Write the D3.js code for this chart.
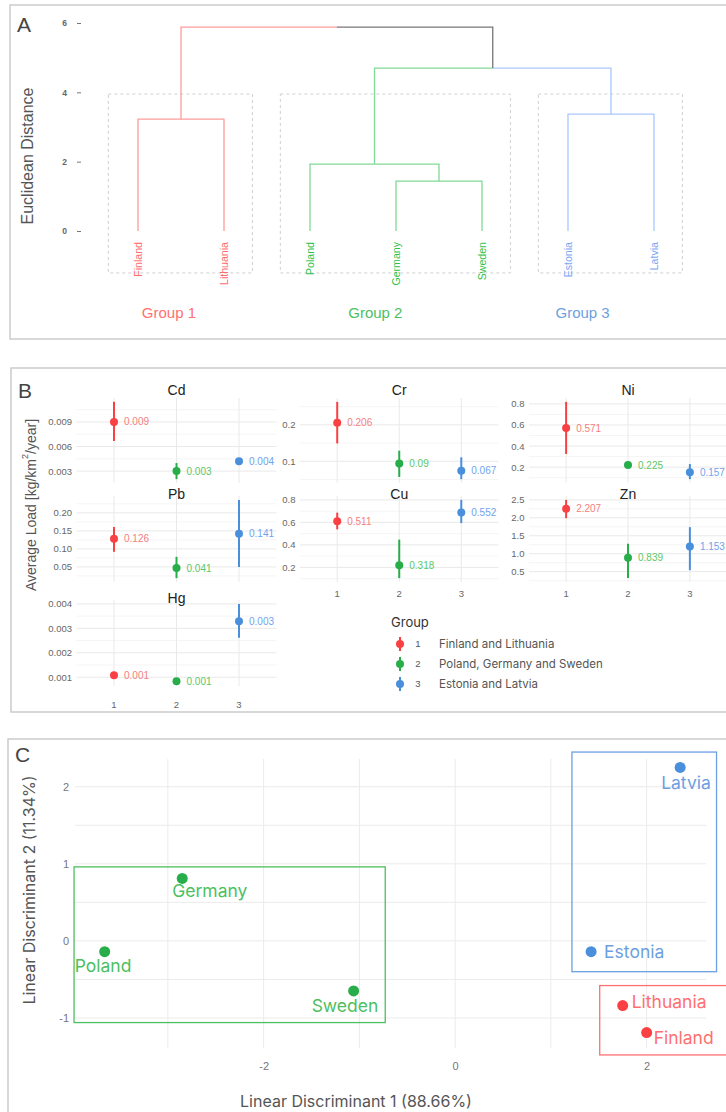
<!DOCTYPE html>
<meta charset="utf-8">
<script src="https://d3js.org/d3.v7.min.js"></script>
<style>
  body { margin: 0; background: #fff; }
  svg { display: block; font-family: "Liberation Sans", Arial, sans-serif; }
</style>
<body>
<div id="my_dataviz"></div>
<script>
  // ---------- Panel A: dendrogram ----------
  var leaves = ["Finland", "Lithuania", "Poland", "Germany", "Sweden", "Estonia", "Latvia"];
  var leafGroup = [1, 1, 2, 2, 2, 3, 3];
  // hclust style: negative = leaf (1-based), positive = earlier merge (1-based)
  var merges = [[-4, -5], [-3, 1], [-1, -2], [-6, -7], [2, 4], [3, 5]];
  var mergeHeight = [1.44, 1.93, 3.23, 3.37, 4.70, 5.88];
  var distTicks = [0, 2, 4, 6];
  var groupNames = ["Group 1", "Group 2", "Group 3"];

  // ---------- Panel B: average loads ----------
  var metals = ["Cd", "Cr", "Ni", "Pb", "Cu", "Zn", "Hg"];
  var loadMean = [[0.009, 0.003, 0.0042], [0.206, 0.094, 0.074], [0.571, 0.219, 0.152],
                  [0.128, 0.047, 0.142], [0.61, 0.219, 0.687], [2.25, 0.89, 1.2],
                  [0.00108, 0.00083, 0.00329]];
  var loadLow = [[0.00667, 0.00202, 0.0040], [0.149, 0.057, 0.051], [0.324, 0.21, 0.086],
                 [0.092, 0.019, 0.05], [0.538, 0.105, 0.594], [1.99, 0.32, 0.54],
                 [0.00104, 0.0008, 0.00262]];
  var loadHigh = [[0.01145, 0.00398, 0.0044], [0.263, 0.129, 0.111], [0.819, 0.23, 0.229],
                  [0.161, 0.078, 0.236], [0.687, 0.447, 0.8], [2.5, 1.28, 1.74],
                  [0.00112, 0.00086, 0.004]];
  var loadLabel = [[0.009, 0.003, 0.004], [0.206, 0.09, 0.067], [0.571, 0.225, 0.157],
                   [0.126, 0.041, 0.141], [0.511, 0.318, 0.552], [2.207, 0.839, 1.153],
                   [0.001, 0.001, 0.003]];
  var metalTicks = [[0.003, 0.006, 0.009], [0.1, 0.2], [0.2, 0.4, 0.6, 0.8],
                    [0.05, 0.1, 0.15, 0.2], [0.2, 0.4, 0.6, 0.8], [0.5, 1, 1.5, 2, 2.5],
                    [0.001, 0.002, 0.003, 0.004]];
  var metalTickFormat = [".3f", ".1f", ".1f", ".2f", ".1f", ".1f", ".3f"];
  var groupLegend = ["Finland and Lithuania", "Poland, Germany and Sweden", "Estonia and Latvia"];

  // ---------- Panel C: LDA ----------
  var ldaCountry = ["Germany", "Poland", "Sweden", "Latvia", "Estonia", "Lithuania", "Finland"];
  var ldaGroup = [2, 2, 2, 3, 3, 1, 1];
  var ld1 = [-2.85, -3.66, -1.06, 2.35, 1.42, 1.75, 2.00];
  var ld2 = [0.81, -0.14, -0.65, 2.25, -0.14, -0.84, -1.19];
  var boxLD1 = [[1.51, 2.95], [-3.98, -0.73], [1.22, 2.73]];
  var boxLD2 = [[-1.48, -0.58], [-1.06, 0.96], [-0.40, 2.45]];
  var ld1Ticks = [-2, 0, 2], ld2Ticks = [-1, 0, 1, 2];

  // colours
  var lineCol = {1: "#ff9c9c", 2: "#80d994", 3: "#a9c7ff", 0: "#777"};
  var leafCol = {1: "#ff6b6b", 2: "#2fbf4f", 3: "#7aa5f5"};
  var grpCol = {1: "#ff6f6f", 2: "#4cbf5f", 3: "#6d9fe0"};
  var ptCol = {1: "#f94144", 2: "#27ad4a", 3: "#4a8fdb"};
  var lblCol = {1: "#f48080", 2: "#5cc867", 3: "#70a3ee"};

  var svg = d3.select("#my_dataviz").append("svg")
    .attr("width", 726).attr("height", 1112);

  function frame(x, y, w, h, letter, ly) {
    svg.append("rect").attr("x", x).attr("y", y).attr("width", w).attr("height", h)
      .attr("fill", "none").attr("stroke", "#c8c8c8").attr("stroke-width", 1.4);
    svg.append("text").attr("x", x + 7).attr("y", ly).text(letter)
      .style("font-size", "21px").attr("fill", "#444");
  }

  // ================= Panel A =================
  frame(10, 5, 730, 334, "A", 32);
  var gA = svg.append("g");
  var xA = d3.scalePoint().domain(leaves).range([138, 654]);
  var yA = d3.scaleLinear().domain([0, 6]).range([231, 23]);
  var step = xA.step();

  var axA = gA.append("g").attr("transform", "translate(81,0)")
    .call(d3.axisLeft(yA).tickValues(distTicks).tickFormat(function(d) { return String(d); })
      .tickSize(4).tickPadding(10));
  axA.select(".domain").remove();
  axA.selectAll("line").attr("stroke", "#777");
  axA.selectAll("text").style("font-size", "8.5px").style("font-weight", "bold").attr("fill", "#666");

  gA.append("text").attr("transform", "translate(27.5,156) rotate(-90)")
    .attr("text-anchor", "middle").attr("dominant-baseline", "central")
    .style("font-size", "16px").attr("fill", "#555").text("Euclidean Distance");

  // group boxes
  [1, 2, 3].forEach(function(gr, i) {
    var idx = leaves.filter(function(d, j) { return leafGroup[j] === gr; });
    var x0 = xA(idx[0]) - 0.345 * step, x1 = xA(idx[idx.length - 1]) + 0.33 * step;
    gA.append("rect").attr("x", x0).attr("y", yA(3.95))
      .attr("width", x1 - x0).attr("height", yA(-1.21) - yA(3.95))
      .attr("fill", "none").attr("stroke", "#cfcfcf").attr("stroke-dasharray", "3,3");
  });

  function nodeX(r) { return r < 0 ? xA(leaves[-r - 1]) : (nodeX(merges[r - 1][0]) + nodeX(merges[r - 1][1])) / 2; }
  function nodeH(r) { return r < 0 ? 0 : mergeHeight[r - 1]; }
  function nodeG(r) {
    if (r < 0) return leafGroup[-r - 1];
    var a = nodeG(merges[r - 1][0]), b = nodeG(merges[r - 1][1]);
    return a === b ? a : 0;
  }
  merges.forEach(function(m, i) {
    var px = nodeX(i + 1), py = yA(mergeHeight[i]);
    m.forEach(function(c) {
      gA.append("path")
        .attr("d", "M" + nodeX(c) + "," + yA(nodeH(c)) + "V" + py + "H" + px)
        .attr("fill", "none").attr("stroke", lineCol[nodeG(c)]).attr("stroke-width", 1.3);
    });
  });

  leaves.forEach(function(l, j) {
    gA.append("text")
      .attr("transform", "translate(" + xA(l) + ",242) rotate(-90)")
      .attr("text-anchor", "end").attr("dominant-baseline", "central")
      .style("font-size", "10.6px").attr("fill", leafCol[leafGroup[j]]).text(l);
  });

  var groupLabelPos = [0.36, 2.76, 5.17];
  groupNames.forEach(function(n, i) {
    gA.append("text").attr("x", xA(leaves[0]) + groupLabelPos[i] * step).attr("y", 318)
      .attr("text-anchor", "middle").style("font-size", "15px")
      .attr("fill", grpCol[i + 1]).text(n);
  });

  // ================= Panel B =================
  frame(11, 368, 730, 344, "B", 398);
  var gB = svg.append("g");
  var metalCol = [0, 1, 2, 0, 1, 2, 0], metalRow = [0, 0, 0, 1, 1, 1, 2];
  var colX = [[76.5, 276.5], [300, 498.5], [529, 727]];
  var rowY = [[398, 483], [496, 582], [600, 686]];
  var titleY = [395, 499, 603];
  var groups = [1, 2, 3];

  metals.forEach(function(m, i) {
    var xr = colX[metalCol[i]], yr = rowY[metalRow[i]];
    var x = d3.scaleLinear().domain([0.4, 3.6]).range(xr);
    var lo = d3.min(loadLow[i]), hi = d3.max(loadHigh[i]), pad = (hi - lo) * 0.05;
    var y = d3.scaleLinear().domain([lo - pad, hi + pad]).range([yr[1], yr[0]]);
    var g = gB.append("g");
    var t = metalTicks[i], st = t[1] - t[0];
    var minors = d3.range(t[0] - st / 2, hi + pad, st).filter(function(v) { return v >= lo - pad; });

    g.selectAll(".mi").data(minors).enter().append("line")
      .attr("x1", xr[0]).attr("x2", xr[1]).attr("y1", y).attr("y2", y)
      .attr("stroke", "#f3f3f3").attr("stroke-width", 0.8);
    g.selectAll(".ma").data(t).enter().append("line")
      .attr("x1", xr[0]).attr("x2", xr[1]).attr("y1", y).attr("y2", y)
      .attr("stroke", "#e9e9e9").attr("stroke-width", 1);
    g.selectAll(".vg").data(groups).enter().append("line")
      .attr("x1", x).attr("x2", x).attr("y1", yr[0]).attr("y2", yr[1])
      .attr("stroke", "#e9e9e9").attr("stroke-width", 1);

    var ax = g.append("g").attr("transform", "translate(" + xr[0] + ",0)")
      .call(d3.axisLeft(y).tickValues(t).tickFormat(d3.format(metalTickFormat[i])).tickSize(0).tickPadding(4.5));
    ax.select(".domain").remove();
    ax.selectAll("text").style("font-size", "9.5px").attr("fill", "#666");

    g.append("text").attr("x", x(2)).attr("y", titleY[metalRow[i]]).attr("text-anchor", "middle")
      .style("font-size", "14px").attr("fill", "#222").text(m);

    groups.forEach(function(gr, k) {
      g.append("line").attr("x1", x(gr)).attr("x2", x(gr))
        .attr("y1", y(loadLow[i][k])).attr("y2", y(loadHigh[i][k]))
        .attr("stroke", ptCol[gr]).attr("stroke-width", 2);
      g.append("circle").attr("cx", x(gr)).attr("cy", y(loadMean[i][k])).attr("r", 4)
        .attr("fill", ptCol[gr]);
      g.append("text").attr("x", x(gr) + 10).attr("y", y(loadMean[i][k])).attr("dy", "0.35em")
        .style("font-size", "10px").attr("fill", lblCol[gr]).text(String(loadLabel[i][k]));
    });
  });

  // x labels: under last facet of each column
  [[0, 708], [1, 597], [2, 597]].forEach(function(c) {
    var x = d3.scaleLinear().domain([0.4, 3.6]).range(colX[c[0]]);
    gB.selectAll(".xl" + c[0]).data(groups).enter().append("text")
      .attr("x", x).attr("y", c[1]).attr("text-anchor", "middle")
      .style("font-size", "9.5px").attr("fill", "#666").text(function(d) { return d; });
  });

  var yt = gB.append("text").attr("transform", "translate(31,505) rotate(-90)")
    .attr("text-anchor", "middle").attr("dominant-baseline", "central")
    .style("font-size", "14px").attr("fill", "#555");
  yt.append("tspan").text("Average Load [kg/km");
  yt.append("tspan").attr("dy", -6).style("font-size", "9px").text("2");
  yt.append("tspan").attr("dy", 6).text("/year]");

  // legend
  var gL = gB.append("g");
  gL.append("text").attr("x", 391).attr("y", 627).style("font-size", "13px")
    .style("font-family", "Inter, sans-serif").attr("fill", "#333").text("Group");
  groups.forEach(function(gr, k) {
    var cy = 644 + k * 20;
    gL.append("line").attr("x1", 400).attr("x2", 400).attr("y1", cy - 7).attr("y2", cy + 7)
      .attr("stroke", ptCol[gr]).attr("stroke-width", 2);
    gL.append("circle").attr("cx", 400).attr("cy", cy).attr("r", 4).attr("fill", ptCol[gr]);
    gL.append("text").attr("x", 418).attr("y", cy).attr("dy", "0.35em").attr("text-anchor", "middle")
      .style("font-size", "9.5px").attr("fill", "#555").text(gr);
    gL.append("text").attr("x", 439).attr("y", cy).attr("dy", "0.35em")
      .style("font-size", "11.5px").style("font-family", "Inter, sans-serif")
      .attr("fill", "#555").text(groupLegend[k]);
  });

  // ================= Panel C =================
  frame(8, 739, 730, 380, "C", 762);
  var gC = svg.append("g");
  var xC = d3.scaleLinear().domain([-3.97, 2.62]).range([75, 706]);
  var yC = d3.scaleLinear().domain([-1.39, 2.36]).range([1048, 759]);
  var xGrid = [-3, -2, -1, 0, 1, 2], yGrid = [-1, -0.5, 0, 0.5, 1, 1.5, 2];

  gC.selectAll(".vx").data(xGrid).enter().append("line")
    .attr("x1", xC).attr("x2", xC).attr("y1", yC.range()[1]).attr("y2", yC.range()[0])
    .attr("stroke", "#ebebeb").attr("stroke-width", 1);
  gC.selectAll(".hy").data(yGrid).enter().append("line")
    .attr("x1", xC.range()[0]).attr("x2", xC.range()[1]).attr("y1", yC).attr("y2", yC)
    .attr("stroke", "#ebebeb").attr("stroke-width", 1);

  var plain = function(d) { return String(d); };
  var axCx = gC.append("g").attr("transform", "translate(0,1048)")
    .call(d3.axisBottom(xC).tickValues(ld1Ticks).tickFormat(plain).tickSize(0).tickPadding(14));
  axCx.select(".domain").remove();
  axCx.selectAll("text").style("font-size", "11px").attr("fill", "#777");
  var axCy = gC.append("g").attr("transform", "translate(75,0)")
    .call(d3.axisLeft(yC).tickValues(ld2Ticks).tickFormat(plain).tickSize(0).tickPadding(6));
  axCy.select(".domain").remove();
  axCy.selectAll("text").style("font-size", "11px").attr("fill", "#777");

  [1, 2, 3].forEach(function(gr, i) {
    gC.append("rect").attr("x", xC(boxLD1[i][0])).attr("y", yC(boxLD2[i][1]))
      .attr("width", xC(boxLD1[i][1]) - xC(boxLD1[i][0]))
      .attr("height", yC(boxLD2[i][0]) - yC(boxLD2[i][1]))
      .attr("fill", "none").attr("stroke", grpCol[gr]).attr("stroke-width", 1.3);
  });

  var labelDx = [-10, -30, -42, -19, 13, 9, 7];
  var labelDy = [19, 20, 21, 22, 6, 2, 11];
  ldaCountry.forEach(function(c, i) {
    gC.append("circle").attr("cx", xC(ld1[i])).attr("cy", yC(ld2[i])).attr("r", 5.5)
      .attr("fill", ptCol[ldaGroup[i]]);
    gC.append("text").attr("x", xC(ld1[i]) + labelDx[i]).attr("y", yC(ld2[i]) + labelDy[i])
      .style("font-size", "17.5px").style("font-family", "Inter, sans-serif")
      .attr("fill", grpCol[ldaGroup[i]]).text(c);
  });

  gC.append("text").attr("x", 356).attr("y", 1107).attr("text-anchor", "middle")
    .style("font-size", "16px").style("font-family", "Inter, sans-serif")
    .attr("fill", "#555").text("Linear Discriminant 1 (88.66%)");
  gC.append("text").attr("transform", "translate(29,890) rotate(-90)")
    .attr("text-anchor", "middle").attr("dominant-baseline", "central")
    .style("font-size", "16px").style("font-family", "Inter, sans-serif")
    .attr("fill", "#555").text("Linear Discriminant 2 (11.34%)");
</script>
</body>
